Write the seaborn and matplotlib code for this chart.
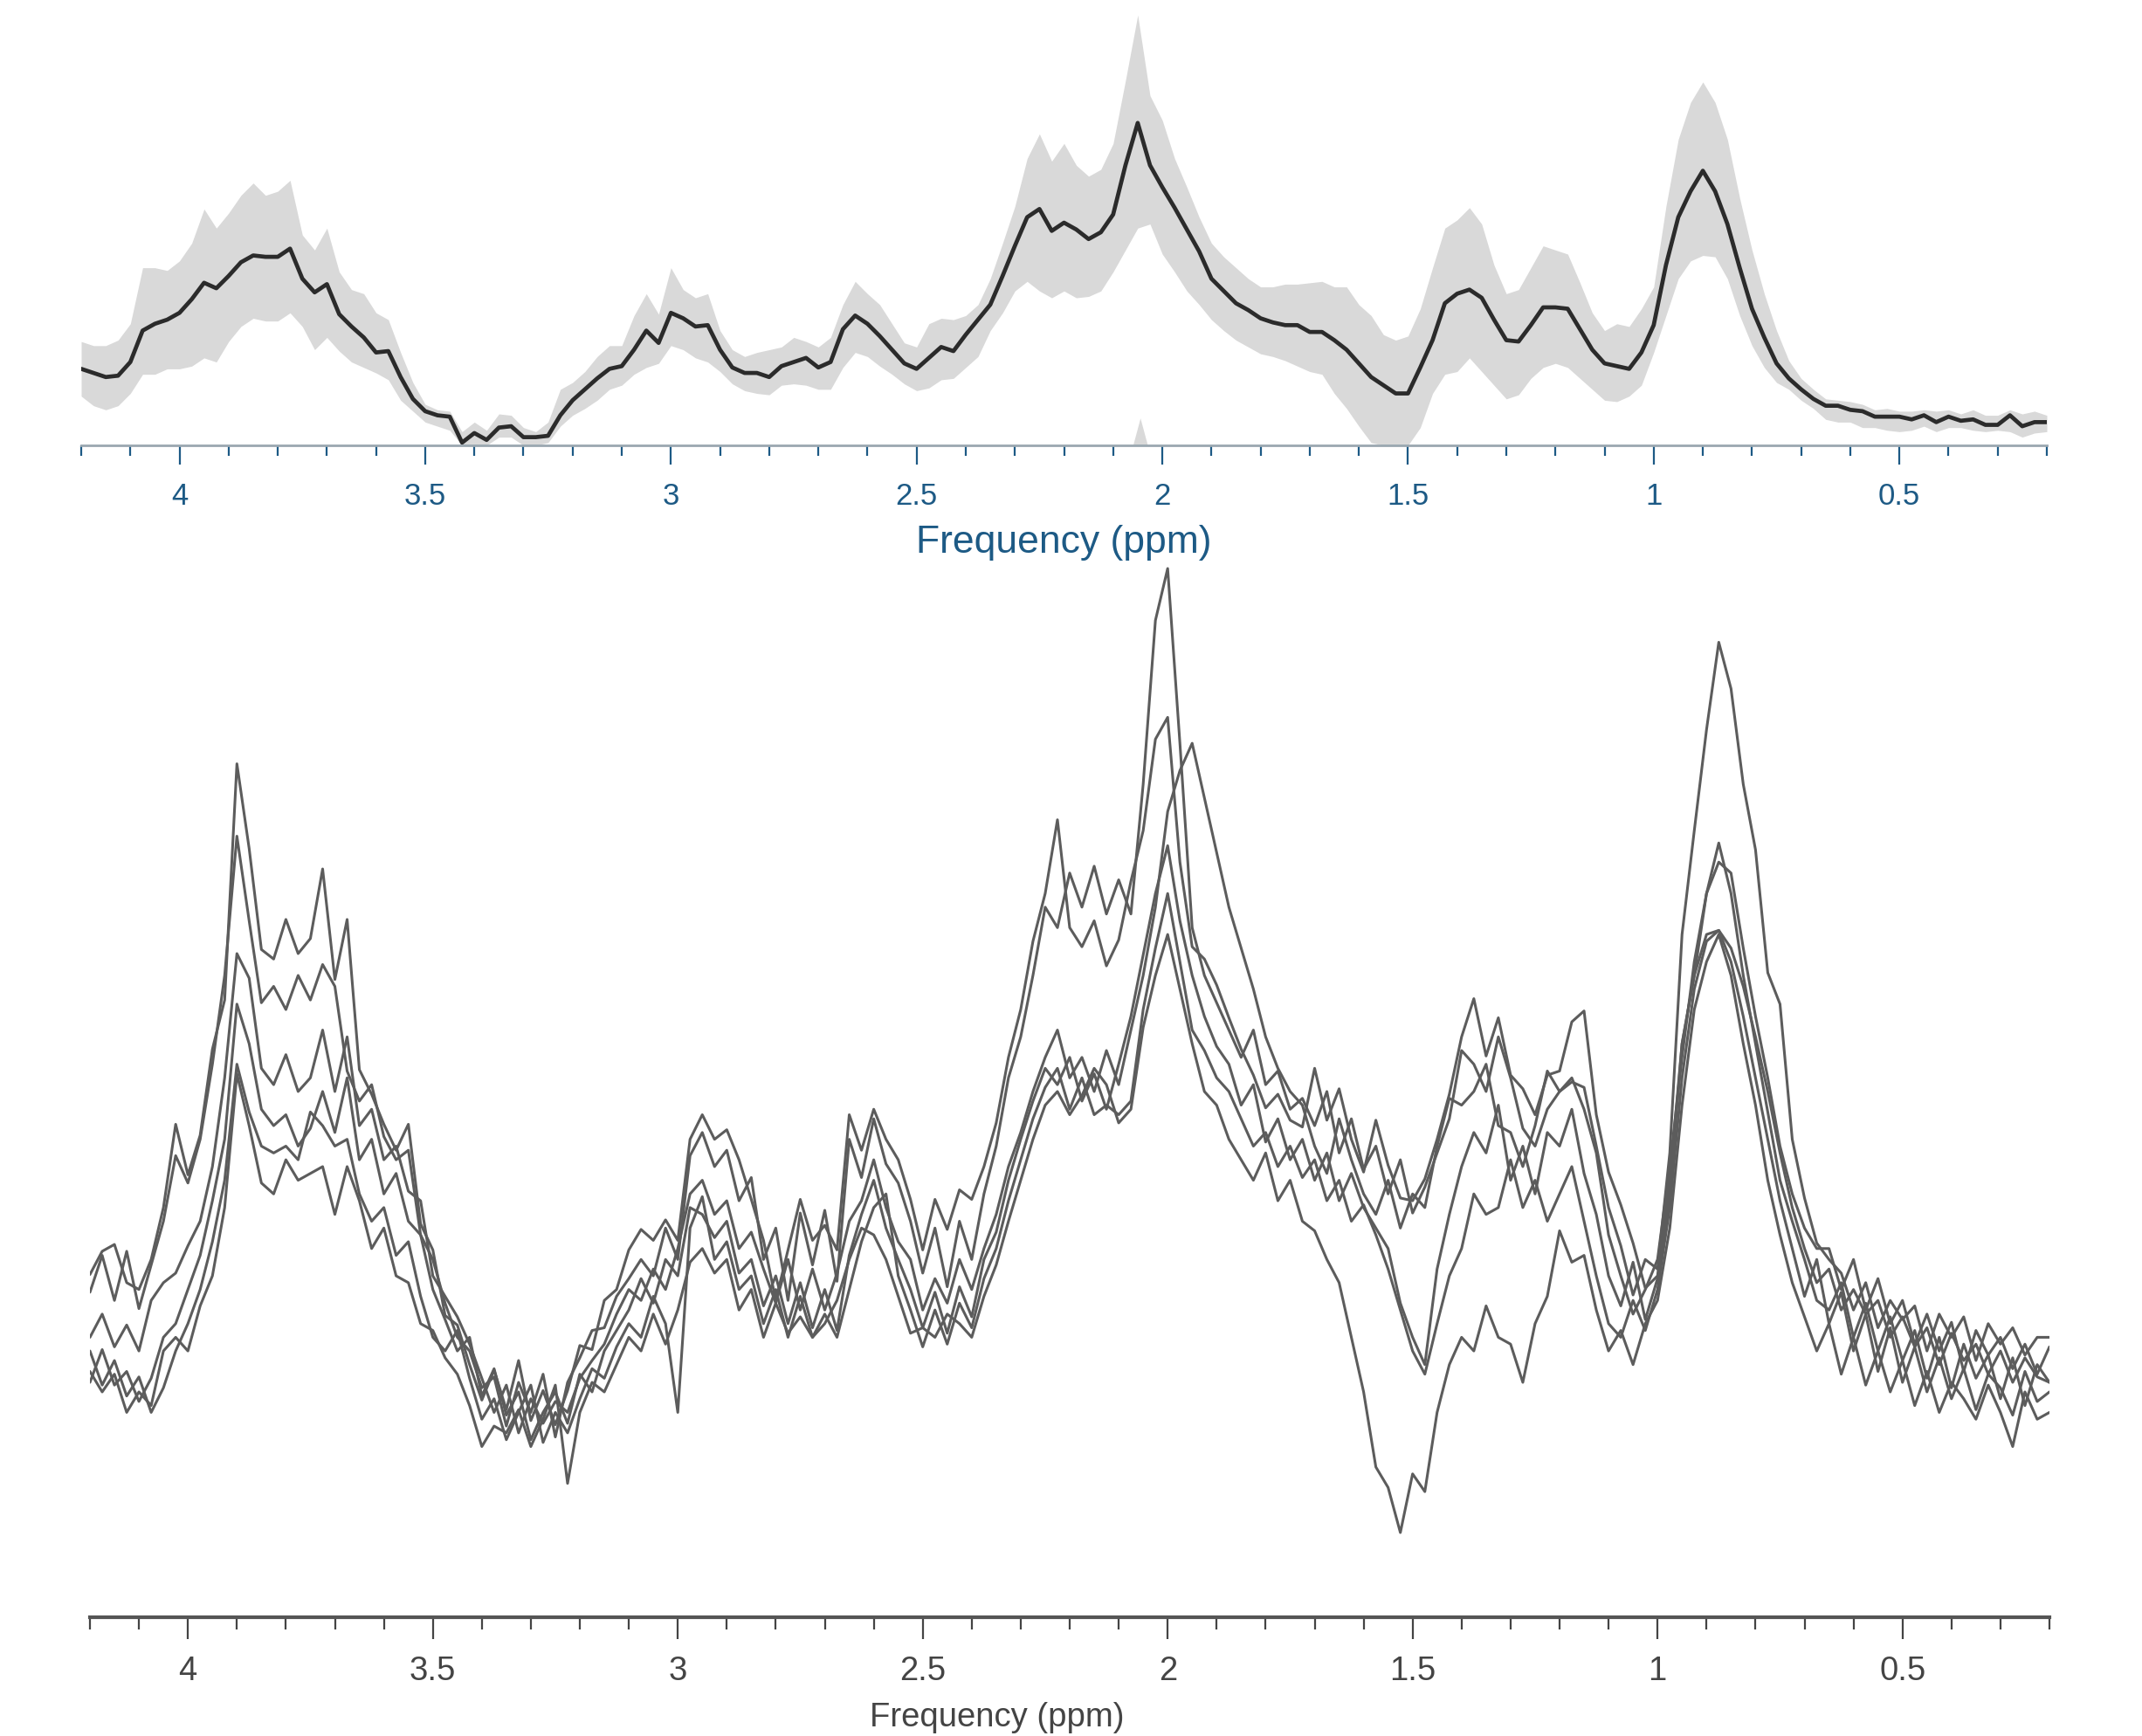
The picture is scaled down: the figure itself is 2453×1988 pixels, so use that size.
import numpy as np
import pandas as pd
import matplotlib
matplotlib.use("Agg")
import matplotlib.pyplot as plt
from matplotlib.ticker import MultipleLocator
import seaborn as sns

# values, one row per 0.5 ppm (step 0.025, 4.2 -> 0.2)
# top panel: mean spectrum and spread
mean_spec = [56,53,50,51,61,84,89,92,97,107,119,115,124,134,139,138,138,144,122,112,
             118,96,87,79,68,69,50,34,25,22,21,2,9,4,13,14,6,6,7,22,
             33,41,49,56,58,70,84,75,97,93,87,88,70,57,53,53,50,58,61,64,
             57,61,85,95,89,80,70,60,56,64,72,69,81,92,103,124,146,167,173,157,
             163,158,151,156,169,205,236,205,189,174,158,142,122,113,104,99,93,90,88,88,
             83,83,77,70,60,50,44,38,38,57,77,104,111,114,108,92,77,76,88,101,
             101,100,85,70,60,58,56,68,88,132,167,186,201,186,162,130,100,79,60,49,
             41,34,29,29,26,25,21,21,21,19,22,17,21,18,19,15,15,22,14,17,
             17]
upper_spec = [76,73,73,77,89,130,130,128,135,148,173,159,170,183,192,183,186,194,154,143,
              159,127,114,111,97,92,68,46,30,26,25,10,17,11,23,22,13,10,17,41,
              46,54,65,73,73,95,111,96,130,114,108,111,84,70,65,68,70,72,79,76,
              72,79,103,120,111,103,89,75,72,89,93,92,95,103,122,148,175,210,228,208,
              221,205,197,202,221,267,315,256,238,210,189,167,148,138,130,122,116,116,118,118,
              119,120,116,116,103,95,81,77,80,100,130,159,165,174,162,132,111,114,130,146,
              143,140,119,97,84,89,87,100,116,175,224,251,266,251,224,181,143,111,84,62,
              49,41,34,33,32,30,26,27,25,25,26,25,26,23,26,22,22,26,23,25,
              22]
lower_spec = [36,29,26,29,38,52,52,56,56,58,64,61,76,87,93,91,91,97,87,70,
              79,69,61,57,53,48,33,25,17,14,11,0,0,0,6,6,0,0,2,14,
              22,27,33,41,44,52,57,60,73,70,64,61,54,45,40,38,37,44,45,44,
              41,41,57,68,65,58,52,45,40,42,48,49,57,65,84,97,113,120,113,108,
              113,108,109,113,127,143,159,162,140,127,113,103,92,84,77,72,67,65,62,58,
              54,52,38,27,14,2,0,0,0,13,38,52,54,64,54,44,34,37,49,57,
              60,57,49,41,33,32,36,44,68,95,122,135,139,138,122,95,73,57,46,41,
              33,27,19,17,17,13,13,11,10,11,14,10,13,13,11,10,11,10,6,9,
              10]
# little grey sliver on the top axis near 2 ppm
sliver_ppm = [2.06, 2.045, 2.03]
sliver_h = [0, 20, 0]

# bottom panel: the six single spectra
s1 = [251,268,273,245,240,262,300,361,324,353,416,452,625,563,489,482,511,486,497,548,
      467,511,401,383,361,342,361,288,269,221,214,185,159,181,152,188,144,166,141,166,
      199,196,232,240,269,284,276,291,276,350,368,350,357,335,306,276,232,269,306,276,
      287,269,368,342,372,350,335,306,269,306,284,313,306,330,362,410,445,495,530,584,
      505,491,510,477,496,539,576,643,659,553,491,482,463,439,416,397,373,383,364,359,
      402,364,387,350,326,364,331,307,305,321,350,383,425,453,411,439,397,387,368,397,
      400,436,444,368,326,302,274,241,250,320,420,470,500,503,490,462,425,385,340,300,
      270,245,255,225,240,222,232,205,220,198,212,185,208,188,200,178,195,172,190,176,
      172]
s2 = [238,265,232,268,226,258,290,338,318,350,405,470,572,510,450,462,445,470,452,478,
      462,400,378,390,352,335,342,280,262,230,205,195,168,176,140,172,150,178,132,172,
      190,210,212,235,248,262,250,285,262,338,355,330,342,305,322,262,285,232,296,258,
      298,246,350,322,365,332,318,290,252,285,242,290,262,310,345,395,425,470,520,505,
      545,520,550,515,540,515,610,730,768,640,505,470,450,430,410,430,390,400,372,380,
      360,385,340,365,328,345,310,335,296,315,340,365,415,405,385,425,395,358,345,372,
      385,392,388,345,300,272,236,262,255,340,500,576,650,714,680,610,562,472,449,350,
      307,274,262,252,225,245,212,232,218,228,195,222,205,220,188,215,200,212,192,205,
      205]
s3 = [205,222,198,214,195,232,245,252,272,290,330,395,486,468,402,390,412,385,395,430,
      385,425,360,372,335,345,312,305,250,235,220,200,175,150,170,135,160,142,158,150,
      175,188,200,222,240,232,255,240,270,310,320,295,305,270,282,255,230,262,225,255,
      225,252,290,305,335,300,275,262,225,248,230,262,240,270,295,330,355,385,410,430,
      395,410,385,415,390,430,470,520,590,620,640,600,560,520,490,460,425,402,385,375,
      345,325,365,335,310,295,320,285,310,300,345,380,375,385,405,360,355,330,360,400,
      385,395,372,340,280,250,222,240,262,330,410,480,530,553,545,490,440,395,345,310,
      285,270,270,240,262,225,248,215,232,200,222,195,216,180,210,192,205,182,200,178,
      198]
s4 = [172,196,170,180,158,175,205,215,240,265,305,350,449,420,372,360,368,345,358,385,
      355,395,335,350,310,325,290,280,240,218,195,205,162,182,148,165,130,150,165,142,
      178,165,195,210,225,248,230,262,250,300,295,278,290,252,262,228,250,215,245,212,
      240,210,265,295,320,285,262,240,212,238,208,242,220,262,282,320,350,378,402,390,
      410,378,398,372,405,440,485,530,565,510,470,440,418,405,375,390,348,365,335,350,
      320,340,305,325,300,285,270,230,205,185,255,295,330,355,340,375,320,345,310,355,
      345,372,325,295,250,228,260,218,248,310,420,470,530,567,530,470,420,370,320,290,
      262,232,225,245,205,230,195,220,188,210,175,205,168,200,175,192,160,190,155,185,
      172]
s5 = [195,170,188,162,176,150,168,195,215,240,275,320,405,370,345,340,345,335,370,360,
      345,350,310,290,300,265,275,235,205,195,210,175,145,160,130,150,170,128,150,135,
      160,182,175,198,215,205,235,215,150,285,308,262,275,240,250,215,240,205,235,205,
      222,205,240,275,300,310,250,225,198,225,200,230,212,248,270,305,335,365,388,402,
      372,395,368,375,368,378,445,490,530,480,430,415,395,385,365,345,355,330,345,322,
      335,305,320,290,302,280,255,225,195,178,215,250,270,310,295,300,335,300,320,290,
      310,330,290,250,215,205,232,210,240,300,395,460,495,503,480,440,395,350,305,270,
      235,262,215,238,195,222,180,212,172,198,165,190,160,182,152,178,168,148,180,158,
      165]
s6 = [180,165,178,150,165,155,195,205,195,228,250,300,398,360,318,310,335,320,325,330,
      295,330,305,270,285,250,245,215,210,190,178,155,125,140,135,152,125,145,170,98,
      150,172,165,185,205,195,222,200,225,260,270,252,262,225,240,205,230,208,220,205,
      215,232,262,285,280,262,235,208,212,205,222,215,205,235,258,290,320,350,375,385,
      368,382,402,390,362,372,432,470,500,460,420,385,375,350,335,320,340,305,320,290,
      283,262,245,205,165,110,95,62,105,92,150,185,205,195,228,205,200,172,215,235,
      283,260,265,225,195,210,185,215,232,285,375,445,480,500,470,420,375,320,280,245,
      220,195,215,178,205,170,195,165,188,155,180,150,172,160,145,170,150,125,165,145,
      150]
spectra = {"s1": s1, "s2": s2, "s3": s3, "s4": s4, "s5": s5, "s6": s6}

major_ticks = [4, 3.5, 3, 2.5, 2, 1.5, 1, 0.5]
tick_labels = ["4", "3.5", "3", "2.5", "2", "1.5", "1", "0.5"]


def ppm_for(values):
    return np.linspace(4.2, 0.2, len(values))


W, H = 2453, 1988
sns.set_style("white")
plt.rcParams["font.family"] = ["Liberation Sans", "DejaVu Sans"]

fig = plt.figure(figsize=(W / 100, H / 100), dpi=100)
ax_top = fig.add_axes([93 / W, 1 - 510 / H, (2344 - 93) / W, 510 / H])
ax_bot = fig.add_axes([103 / W, 1 - 1852 / H, (2347 - 103) / W, (1852 - 626) / H])

# top panel
blue = "#1d5a85"
ax_top.fill_between(ppm_for(lower_spec), lower_spec, upper_spec, color="#d9d9d9", lw=0)
ax_top.fill_between(sliver_ppm, 0, sliver_h, color="#d9d9d9", lw=0)
sns.lineplot(x=ppm_for(mean_spec), y=mean_spec, ax=ax_top, color="#2b2b2b", lw=3.4, sort=False)
ax_top.set_xlim(4.2, 0.2)
ax_top.set_ylim(0, 326)

# bottom panel
for name, vals in spectra.items():
    sns.lineplot(x=ppm_for(vals), y=vals, ax=ax_bot, color="#5c5c5c", lw=2.2, sort=False)
ax_bot.set_xlim(4.2, 0.2)
ax_bot.set_ylim(0, 784)

for ax, col, spine_col, spine_w, maj, mnr, fs in [
    (ax_top, blue, "#9aa7b0", 2.0, 16, 8.5, 25),
    (ax_bot, "#444444", "#555555", 3.0, 18, 10, 27.5),
]:
    ax.patch.set_alpha(0)
    ax.set_yticks([])
    ax.set_xticks(major_ticks)
    ax.set_xticklabels(tick_labels)
    ax.xaxis.set_minor_locator(MultipleLocator(0.1))
    ax.tick_params(axis="x", which="major", length=maj, width=1.6, color=col,
                   labelcolor=col, labelsize=fs, pad=14, bottom=True)
    ax.tick_params(axis="x", which="minor", length=mnr, width=1.6, color=col, bottom=True)
    for side in ["top", "left", "right"]:
        ax.spines[side].set_visible(False)
    ax.spines["bottom"].set_color(spine_col)
    ax.spines["bottom"].set_linewidth(spine_w)

ax_top.set_xlabel("Frequency (ppm)", fontsize=32, color=blue, labelpad=12)
ax_bot.set_xlabel("Frequency (ppm)", fontsize=27.5, color="#444444", labelpad=6)
ax_bot.xaxis.set_label_coords((730 * 1.5645 - 103) / (2347 - 103), -0.079)

fig.savefig("out.png", dpi=100, facecolor="white")
